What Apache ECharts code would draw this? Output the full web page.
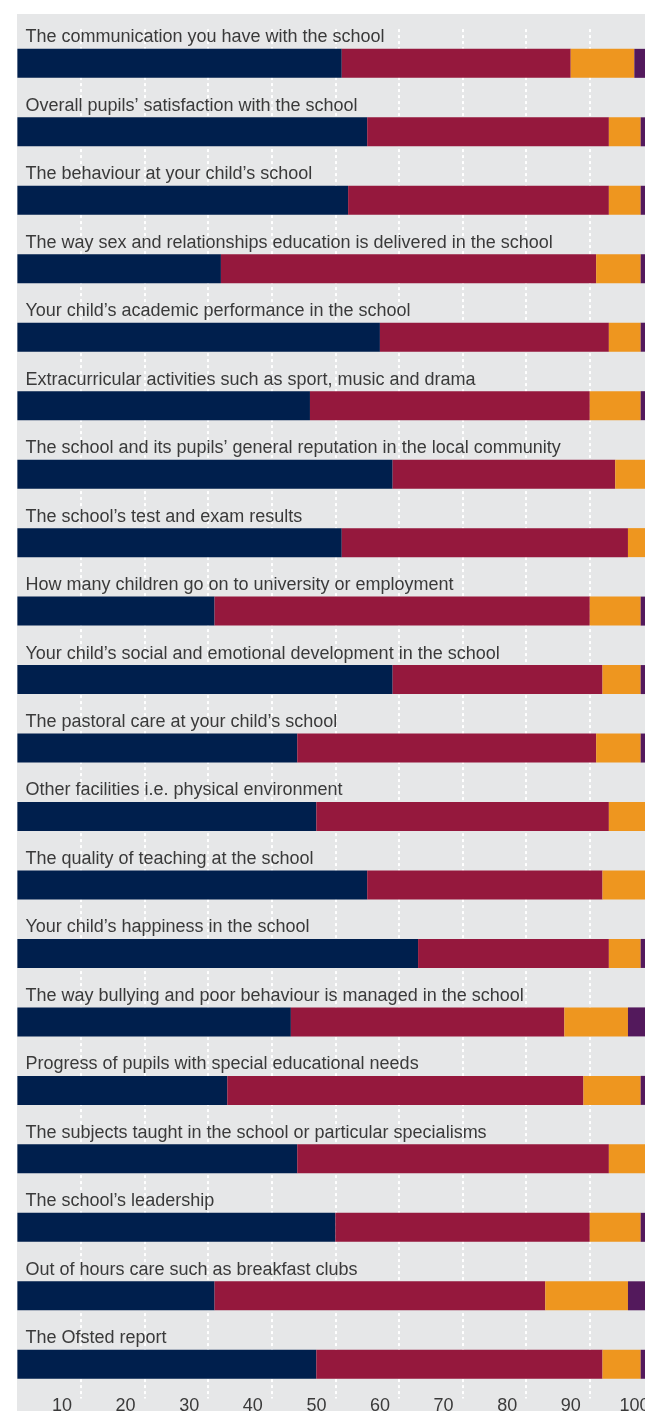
<!DOCTYPE html>
<html>
<head>
<meta charset="utf-8">
<script src="https://cdn.jsdelivr.net/npm/echarts@6/dist/echarts.min.js"></script>
<style>
  html, body { margin: 0; padding: 0; background: #ffffff; }
  body { width: 645px; height: 1411px; position: relative; overflow: hidden; }
  #chart {
    position: absolute; left: 17px; top: 14px;
    width: 628px; height: 1397px;
    background: #e6e7e8;
  }
</style>
</head>
<body>
<div id="chart"></div>
<script>
// Aspects of school life, share of parents' ratings (%)
const categories = [
  "The communication you have with the school",
  "Overall pupils\u2019 satisfaction with the school",
  "The behaviour at your child\u2019s school",
  "The way sex and relationships education is delivered in the school",
  "Your child\u2019s academic performance in the school",
  "Extracurricular activities such as sport, music and drama",
  "The school and its pupils\u2019 general reputation in the local community",
  "The school\u2019s test and exam results",
  "How many children go on to university or employment",
  "Your child\u2019s social and emotional development in the school",
  "The pastoral care at your child\u2019s school",
  "Other facilities i.e. physical environment",
  "The quality of teaching at the school",
  "Your child\u2019s happiness in the school",
  "The way bullying and poor behaviour is managed in the school",
  "Progress of pupils with special educational needs",
  "The subjects taught in the school or particular specialisms",
  "The school\u2019s leadership",
  "Out of hours care such as breakfast clubs",
  "The Ofsted report"
];

const verySatisfied     = [51, 55, 52, 32, 57, 46, 59, 51, 31, 59, 44, 47, 55, 63, 43, 33, 44, 50, 31, 47];
const satisfied         = [36, 38, 41, 59, 36, 44, 35, 45, 59, 33, 47, 46, 37, 30, 43, 56, 49, 40, 52, 45];
const dissatisfied      = [10,  5,  5,  7,  5,  8,  6,  4,  8,  6,  7,  7,  8,  5, 10,  9,  7,  8, 13,  6];
const veryDissatisfied  = [ 3,  2,  2,  2,  2,  2,  0,  0,  2,  2,  2,  0,  0,  2,  4,  2,  0,  2,  4,  2];

const tickLabels = ["10", "20", "30", "40", "50", "60", "70", "80", "90", "100"];

const FONT = '"Liberation Sans", Arial, sans-serif';
const TEXT = '#3a3a3a';

const chart = echarts.init(document.getElementById('chart'), null, { renderer: 'canvas' });

function barSeries(name, data, color) {
  return {
    name: name,
    type: 'bar',
    stack: 'total',
    data: data,
    barWidth: 29,
    itemStyle: { color: color },
    emphasis: { disabled: true }
  };
}

chart.setOption({
  animation: false,
  grid: {
    left: 0.4, width: 636, top: 15.1, bottom: 12.5,
    containLabel: false,
    outerBoundsMode: 'none'
  },
  xAxis: {
    type: 'value',
    min: 0,
    max: 100,
    interval: 10,
    axisLine: { show: false },
    axisTick: { show: false },
    splitLine: {
      show: true,
      showMinLine: false,
      lineStyle: { color: '#ffffff', width: 2, type: [3, 3] }
    },
    axisLabel: {
      showMinLabel: false,
      color: TEXT,
      fontFamily: FONT,
      fontSize: 18,
      margin: -1,
      formatter: function (v) {
        const i = Math.round(v / 10) - 1;
        return i >= 0 && i < tickLabels.length ? '{t|' + tickLabels[i] + '}' : '';
      },
      rich: {
        t: { color: TEXT, fontFamily: FONT, fontSize: 18, padding: [0, 38, 0, 0] }
      }
    }
  },
  yAxis: {
    type: 'category',
    inverse: true,
    data: categories,
    axisLine: { show: false },
    axisTick: { show: false },
    splitLine: { show: false },
    axisLabel: {
      inside: true,
      align: 'left',
      verticalAlign: 'middle',
      margin: 8,
      formatter: function (v) { return '{c|' + v + '}'; },
      rich: {
        c: { color: TEXT, fontFamily: FONT, fontSize: 18, padding: [0, 0, 52, 0] }
      }
    },
    z: 5
  },
  series: [
    barSeries('Very satisfied', verySatisfied, '#001f4d'),
    barSeries('Satisfied', satisfied, '#95183d'),
    barSeries('Dissatisfied', dissatisfied, '#ee961f'),
    barSeries('Very dissatisfied', veryDissatisfied, '#53195c')
  ]
});
</script>
</body>
</html>
